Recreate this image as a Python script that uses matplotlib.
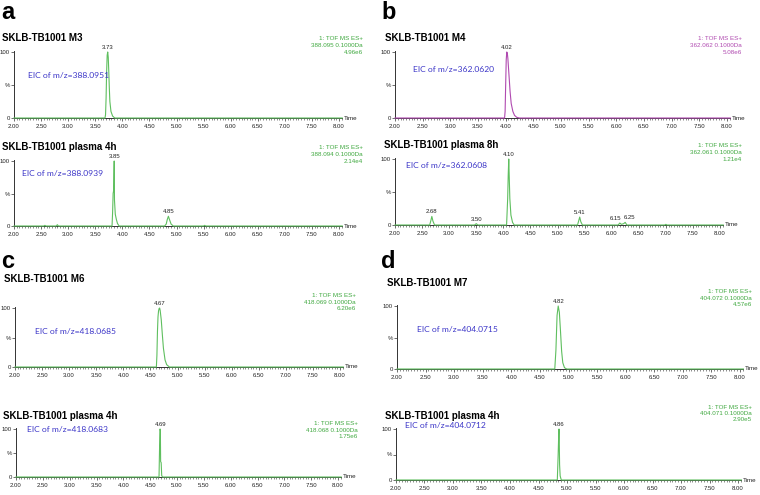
import matplotlib
matplotlib.use('Agg')
import matplotlib.pyplot as plt
from matplotlib.ticker import MultipleLocator, FixedLocator

W, H = 760, 495
fig = plt.figure(figsize=(7.6, 4.95), dpi=100)

GREEN_LINE = '#5fbf5f'
GREEN_TEXT = '#3fa83f'
MAGENTA = '#b04ab0'
BLUE = '#3c36c8'
SANS = ['Liberation Sans', 'DejaVu Sans']

# ---------------- data ----------------
# Panel a, top: SKLB-TB1001 M3
a1_t = [2.00, 3.68, 3.69, 3.70, 3.71, 3.72, 3.73, 3.74, 3.75, 3.76, 3.77, 3.79, 3.82, 3.86, 8.06]
a1_y = [0, 0, 5, 30, 70, 95, 100, 92, 70, 45, 25, 10, 3, 0, 0]
# Panel a, bottom: plasma 4h
a2_t = [2.00, 2.55, 2.57, 2.59, 2.78, 2.80, 2.82, 3.81, 3.82, 3.83, 3.84, 3.85, 3.855, 3.87, 3.89,
        3.91, 3.94, 4.78, 4.81, 4.83, 4.85, 4.87, 4.90, 4.94, 5.50, 5.52, 5.54, 8.06]
a2_y = [0, 0, 1, 0, 0, 2, 0, 0, 20, 50, 55, 100, 40, 18, 10,
        4, 0, 0, 3, 10, 15, 10, 3, 0, 0, 1, 0, 0]
# Panel b, top: SKLB-TB1001 M4
b1_t = [2.00, 3.98, 3.99, 4.00, 4.01, 4.02, 4.03, 4.04, 4.06, 4.08, 4.10, 4.13, 4.16, 4.20, 4.25, 8.06]
b1_y = [0, 0, 10, 50, 88, 100, 98, 90, 65, 40, 22, 10, 4, 1, 0, 0]
# Panel b, bottom: plasma 8h
b2_t = [2.00, 2.64, 2.66, 2.68, 2.70, 2.73, 3.47, 3.50, 3.53, 4.06, 4.08, 4.09, 4.10, 4.11, 4.12,
        4.14, 4.17, 4.20, 5.37, 5.39, 5.41, 5.43, 5.46, 6.12, 6.15, 6.18, 6.22, 6.25, 6.28, 6.98,
        7.00, 7.02, 8.06]
b2_y = [0, 0, 6, 13, 6, 0, 0, 2, 0, 0, 40, 75, 100, 70, 40,
        15, 4, 0, 0, 6, 12, 5, 0, 0, 3, 1, 2, 4, 0, 0,
        1, 0, 0]
# Panel c, top: SKLB-TB1001 M6
c1_t = [2.00, 4.61, 4.62, 4.63, 4.64, 4.65, 4.66, 4.67, 4.68, 4.70, 4.72, 4.74, 4.77, 4.80, 4.85, 8.06]
c1_y = [0, 0, 20, 60, 85, 95, 99, 100, 96, 80, 55, 32, 12, 4, 0, 0]
# Panel c, bottom: plasma 4h
c2_t = [2.00, 4.665, 4.675, 4.685, 4.69, 4.695, 4.705, 4.715, 4.73, 8.06]
c2_y = [0, 0, 60, 100, 95, 32, 30, 3, 0, 0]
# Panel d, top: SKLB-TB1001 M7
d1_t = [2.00, 4.76, 4.78, 4.80, 4.82, 4.84, 4.86, 4.88, 4.90, 4.93, 4.97, 8.06]
d1_y = [0, 0, 30, 85, 100, 90, 60, 28, 10, 2, 0, 0]
# Panel d, bottom: plasma 4h
d2_t = [2.00, 4.83, 4.845, 4.855, 4.86, 4.865, 4.87, 4.88, 4.90, 8.06]
d2_y = [0, 0, 50, 90, 100, 70, 30, 8, 0, 0]

# peak labels (time, height)
a1_peaks = [(3.73, 100)]
a2_peaks = [(3.85, 100), (4.85, 15)]
b1_peaks = [(4.02, 100)]
b2_peaks = [(2.68, 13), (3.50, 2), (4.10, 100), (5.41, 12), (6.15, 3), (6.25, 4)]
c1_peaks = [(4.67, 100)]
c2_peaks = [(4.69, 100)]
d1_peaks = [(4.82, 100)]
d2_peaks = [(4.86, 100)]

titles = ['SKLB-TB1001 M3', 'SKLB-TB1001 plasma 4h', 'SKLB-TB1001 M4', 'SKLB-TB1001 plasma 8h',
          'SKLB-TB1001 M6', 'SKLB-TB1001 plasma 4h', 'SKLB-TB1001 M7', 'SKLB-TB1001 plasma 4h']
eic_labels = ['EIC of m/z=388.0951', 'EIC of m/z=388.0939', 'EIC of m/z=362.0620', 'EIC of m/z=362.0608',
              'EIC of m/z=418.0685', 'EIC of m/z=418.0683', 'EIC of m/z=404.0715', 'EIC of m/z=404.0712']
ms_mass = ['388.095 0.1000Da', '388.094 0.1000Da', '362.062 0.1000Da', '362.061 0.1000Da',
           '418.069 0.1000Da', '418.068 0.1000Da', '404.072 0.1000Da', '404.071 0.1000Da']
ms_intensity = ['4.96e6', '2.14e4', '5.08e6', '1.21e4', '6.20e6', '1.75e6', '4.57e6', '2.90e5']
tick_vals = [2.0, 2.5, 3.0, 3.5, 4.0, 4.5, 5.0, 5.5, 6.0, 6.5, 7.0, 7.5, 8.0]
tick_labels = ['2.00', '2.50', '3.00', '3.50', '4.00', '4.50', '5.00', '5.50', '6.00', '6.50', '7.00', '7.50', '8.00']
panel_letters = ['a', 'b', 'c', 'd']

traces = [(a1_t, a1_y, a1_peaks), (a2_t, a2_y, a2_peaks), (b1_t, b1_y, b1_peaks), (b2_t, b2_y, b2_peaks),
          (c1_t, c1_y, c1_peaks), (c2_t, c2_y, c2_peaks), (d1_t, d1_y, d1_peaks), (d2_t, d2_y, d2_peaks)]

# ---------------- layout (pixels) ----------------
# x of 2.00, x of 8.00, y of 100, y of 0
geom = [(14, 339, 52, 118), (14, 339, 161, 226),
        (395, 727, 52, 118), (395, 720, 159, 225),
        (15, 340, 308, 367), (16, 338, 429, 477),
        (397, 740, 306, 369), (396, 738, 429, 480)]
title_pos = [(2, 38), (2, 147), (385, 38), (384, 145), (4, 279), (3, 416), (387, 283), (385, 416)]
eic_pos = [(28, 75), (22, 173), (413, 69), (406, 166), (35, 331), (27, 429), (417, 330), (405, 426)]
ms_top = [(363, 36), (363, 145), (742, 36), (742, 143), (356, 293), (358, 421), (752, 289), (752, 405)]
ms_spacing = [1.5, 1.5, 1.5, 1.5, 1.4, 1.4, 1.4, 1.3]
letter_pos = [(1, 1), (381, 1), (1, 250), (381, 250)]
line_colors = [GREEN_LINE, GREEN_LINE, MAGENTA, GREEN_LINE, GREEN_LINE, GREEN_LINE, GREEN_LINE, GREEN_LINE]
ms_colors = [GREEN_TEXT, GREEN_TEXT, MAGENTA, GREEN_TEXT, GREEN_TEXT, GREEN_TEXT, GREEN_TEXT, GREEN_TEXT]

XMAX = 8.06
YMAX = 102

def fx(px):
    return px / W

def fy(py):
    return 1 - py / H

for i, ((t, y, peaks), (x2, x8, y100, y0)) in enumerate(zip(traces, geom)):
    ppx = (x8 - x2) / 6.0
    ppy = (y0 - y100) / 100.0
    ax = fig.add_axes([x2 / W, 1 - y0 / H, (XMAX - 2.0) * ppx / W, YMAX * ppy / H])
    ax.set_xlim(2.0, XMAX)
    ax.set_ylim(0, YMAX)
    ax.plot(t, y, color=line_colors[i], lw=0.8, clip_on=False, zorder=3)
    for s in ['top', 'right']:
        ax.spines[s].set_visible(False)
    for s in ['left', 'bottom']:
        ax.spines[s].set_color('#333333')
        ax.spines[s].set_linewidth(0.7)
    ax.xaxis.set_major_locator(FixedLocator(tick_vals))
    ax.set_xticklabels(tick_labels, fontsize=4.3, family=SANS, color='#222222')
    ax.xaxis.set_minor_locator(MultipleLocator(0.05))
    ax.tick_params(axis='x', which='major', length=2.5, width=0.5, pad=1.5, color='#333333')
    ax.tick_params(axis='x', which='minor', length=1.3, width=0.4, color='#333333')
    ax.yaxis.set_major_locator(FixedLocator([0, 50, 100]))
    ax.set_yticklabels(['0', '%', '100'], fontsize=4.3, family=SANS, color='#222222')
    ax.tick_params(axis='y', which='major', length=2.0, width=0.5, pad=1, color='#333333')
    ax.text(XMAX + 0.03, 0, 'Time', fontsize=4.5, family=SANS, va='center', ha='left', color='#222222')
    for k, (pt, ph) in enumerate(peaks):
        dx, ha = 0, 'center'
        if k + 1 < len(peaks) and peaks[k + 1][0] - pt < 0.15:
            dx, ha = 1.0, 'right'
        elif k > 0 and pt - peaks[k - 1][0] < 0.15:
            dx, ha = -1.0, 'left'
        ax.annotate(f'{pt:.2f}', (pt, ph), xytext=(dx, 1.5), textcoords='offset points',
                    ha=ha, va='bottom', fontsize=4.3, family=SANS, color='#222222')
    # titles and annotations
    tx, ty = title_pos[i]
    fig.text(fx(tx), fy(ty), titles[i], fontsize=7, fontweight='bold', family=SANS, ha='left', va='center')
    ex, ey = eic_pos[i]
    fig.text(fx(ex), fy(ey), eic_labels[i], fontsize=6.1, family=['Lato', 'DejaVu Sans'], color=BLUE,
             ha='left', va='center')
    mx, my = ms_top[i]
    fig.text(fx(mx), fy(my), '1: TOF MS ES+\n' + ms_mass[i] + '\n' + ms_intensity[i], fontsize=4.5,
             family=SANS, color=ms_colors[i], ha='right', va='top', linespacing=ms_spacing[i])

for letter, (lx, ly) in zip(panel_letters, letter_pos):
    fig.text(fx(lx), fy(ly), letter, fontsize=17, fontweight='bold', family=SANS, ha='left', va='top')

fig.savefig('out.png', dpi=100)
